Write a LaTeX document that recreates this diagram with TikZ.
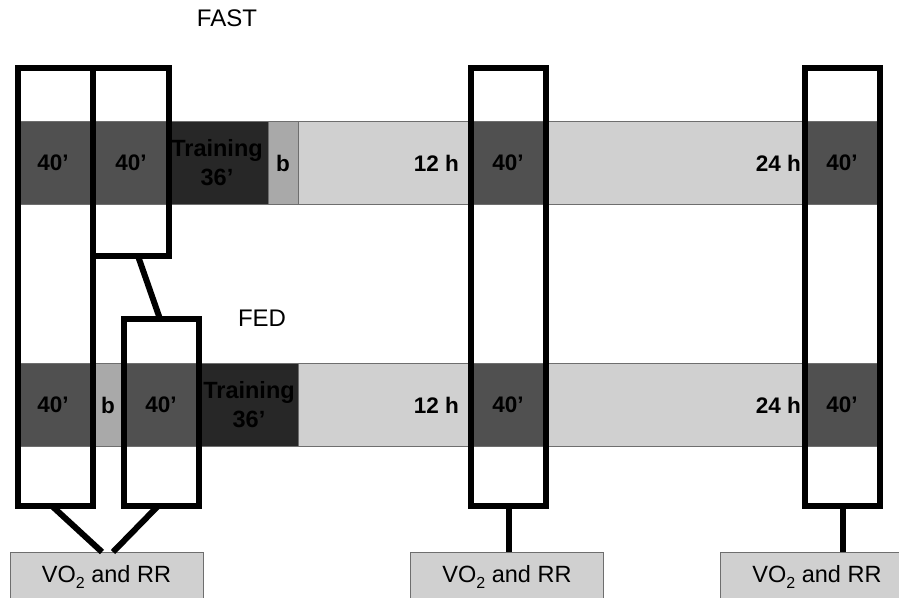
\documentclass[tikz,border=0pt]{standalone}
\usepackage{fontspec}
\setmainfont{Liberation Sans}
\usetikzlibrary{calc}
\definecolor{segdark}{HTML}{505050}
\definecolor{segtrain}{HTML}{272727}
\definecolor{segb}{HTML}{A9A9A9}
\definecolor{seglight}{HTML}{D0D0D0}
\definecolor{segline}{HTML}{6E6E6E}
\newcommand\segbox[5]{\filldraw[seg, fill=#5] (#1,#3) rectangle (#2,#4);}
\newcommand\vosub{VO\raisebox{-6pt}{\fontsize{16}{18}\selectfont 2}}
\begin{document}
\begin{tikzpicture}[x=1pt,y=-1pt,
  seg/.style={draw=segline, line width=0.9pt},
  frame/.style={draw=black, line width=6pt, rectangle, inner sep=0pt, outer sep=0pt},
  link/.style={draw=black, line width=6pt},
  lbl/.style={font=\fontsize{22.5}{26}\selectfont\bfseries, text=black, inner sep=0pt},
  trn/.style={font=\fontsize{23.5}{29}\selectfont\bfseries, text=black, align=center, inner sep=0pt},
  title/.style={font=\fontsize{24}{28}\selectfont, text=black, inner sep=0pt},
  outbox/.style={draw=segline, line width=0.9pt, fill=seglight, rectangle, inner sep=0pt, outer sep=0pt,
    minimum width=193pt, minimum height=50pt, font=\fontsize{23.5}{27}\selectfont}
]
\clip (0,0) rectangle (899,597);
\fill[white] (0,0) rectangle (899,597);

% top bar (FAST)
\segbox{18}{877}{121}{204}{seglight}
\segbox{18}{93}{121}{204}{segdark}
\segbox{93}{169}{121}{204}{segdark}
\segbox{169}{268}{121}{204}{segtrain}
\segbox{268}{298}{121}{204}{segb}
\segbox{471}{546}{121}{204}{segdark}
\segbox{805}{877}{121}{204}{segdark}

% bottom bar (FED)
\segbox{18}{877}{363}{446}{seglight}
\segbox{18}{93}{363}{446}{segdark}
\segbox{93}{124}{363}{446}{segb}
\segbox{124}{199}{363}{446}{segdark}
\segbox{199}{298}{363}{446}{segtrain}
\segbox{471}{546}{363}{446}{segdark}
\segbox{805}{877}{363}{446}{segdark}

% labels top
\node[title] (fast) at (227,18) {FAST};
\node[lbl] (a1) at (53,163) {40’};
\node[lbl] (a2) at (131,163) {40’};
\node[trn] (a3) at (217,163) {Training\\36’};
\node[lbl] (a4) at (283,163) {b};
\node[lbl, anchor=east] (a5) at (459,163) {12 h};
\node[lbl] (a6) at (508,163) {40’};
\node[lbl, anchor=east] (a7) at (801,163) {24 h};
\node[lbl] (a8) at (842,163) {40’};

% labels bottom
\node[title] (fed) at (262,318) {FED};
\node[lbl] (b1) at (53,405) {40’};
\node[lbl] (b2) at (108,405) {b};
\node[lbl] (b3) at (161,405) {40’};
\node[trn] (b4) at (249,405) {Training\\36’};
\node[lbl, anchor=east] (b5) at (459,405) {12 h};
\node[lbl] (b6) at (508,405) {40’};
\node[lbl, anchor=east] (b7) at (801,405) {24 h};
\node[lbl] (b8) at (842,405) {40’};

% frames
\node[frame, minimum width=75pt, minimum height=438pt] (fA) at (55.5,287) {};
\node[frame, minimum width=76pt, minimum height=188pt] (fB) at (131,162) {};
\node[frame, minimum width=75pt, minimum height=187pt] (fC) at (161.5,412.5) {};
\node[frame, minimum width=75pt, minimum height=438pt] (fD) at (508.5,287) {};
\node[frame, minimum width=75pt, minimum height=438pt] (fE) at (842.5,287) {};

% output boxes
\node[outbox] (o1) at (106.5,577) {\vosub{} and RR};
\node[outbox] (o2) at (507,577) {\vosub{} and RR};
\node[outbox] (o3) at (817,577) {\vosub{} and RR};

% connectors
\draw[link] ([xshift=7pt]fB.south) -- ([xshift=-1.5pt]fC.north);
\draw[link] ([xshift=-3.5pt]fA.south) -- ([xshift=-4.5pt]o1.north);
\draw[link] ([xshift=-3.5pt]fC.south) -- ([xshift=6.5pt]o1.north);
\draw[link] (fD.south) -- (fD.south |- o2.north);
\draw[link] (fE.south) -- (fE.south |- o3.north);
\end{tikzpicture}
\end{document}
